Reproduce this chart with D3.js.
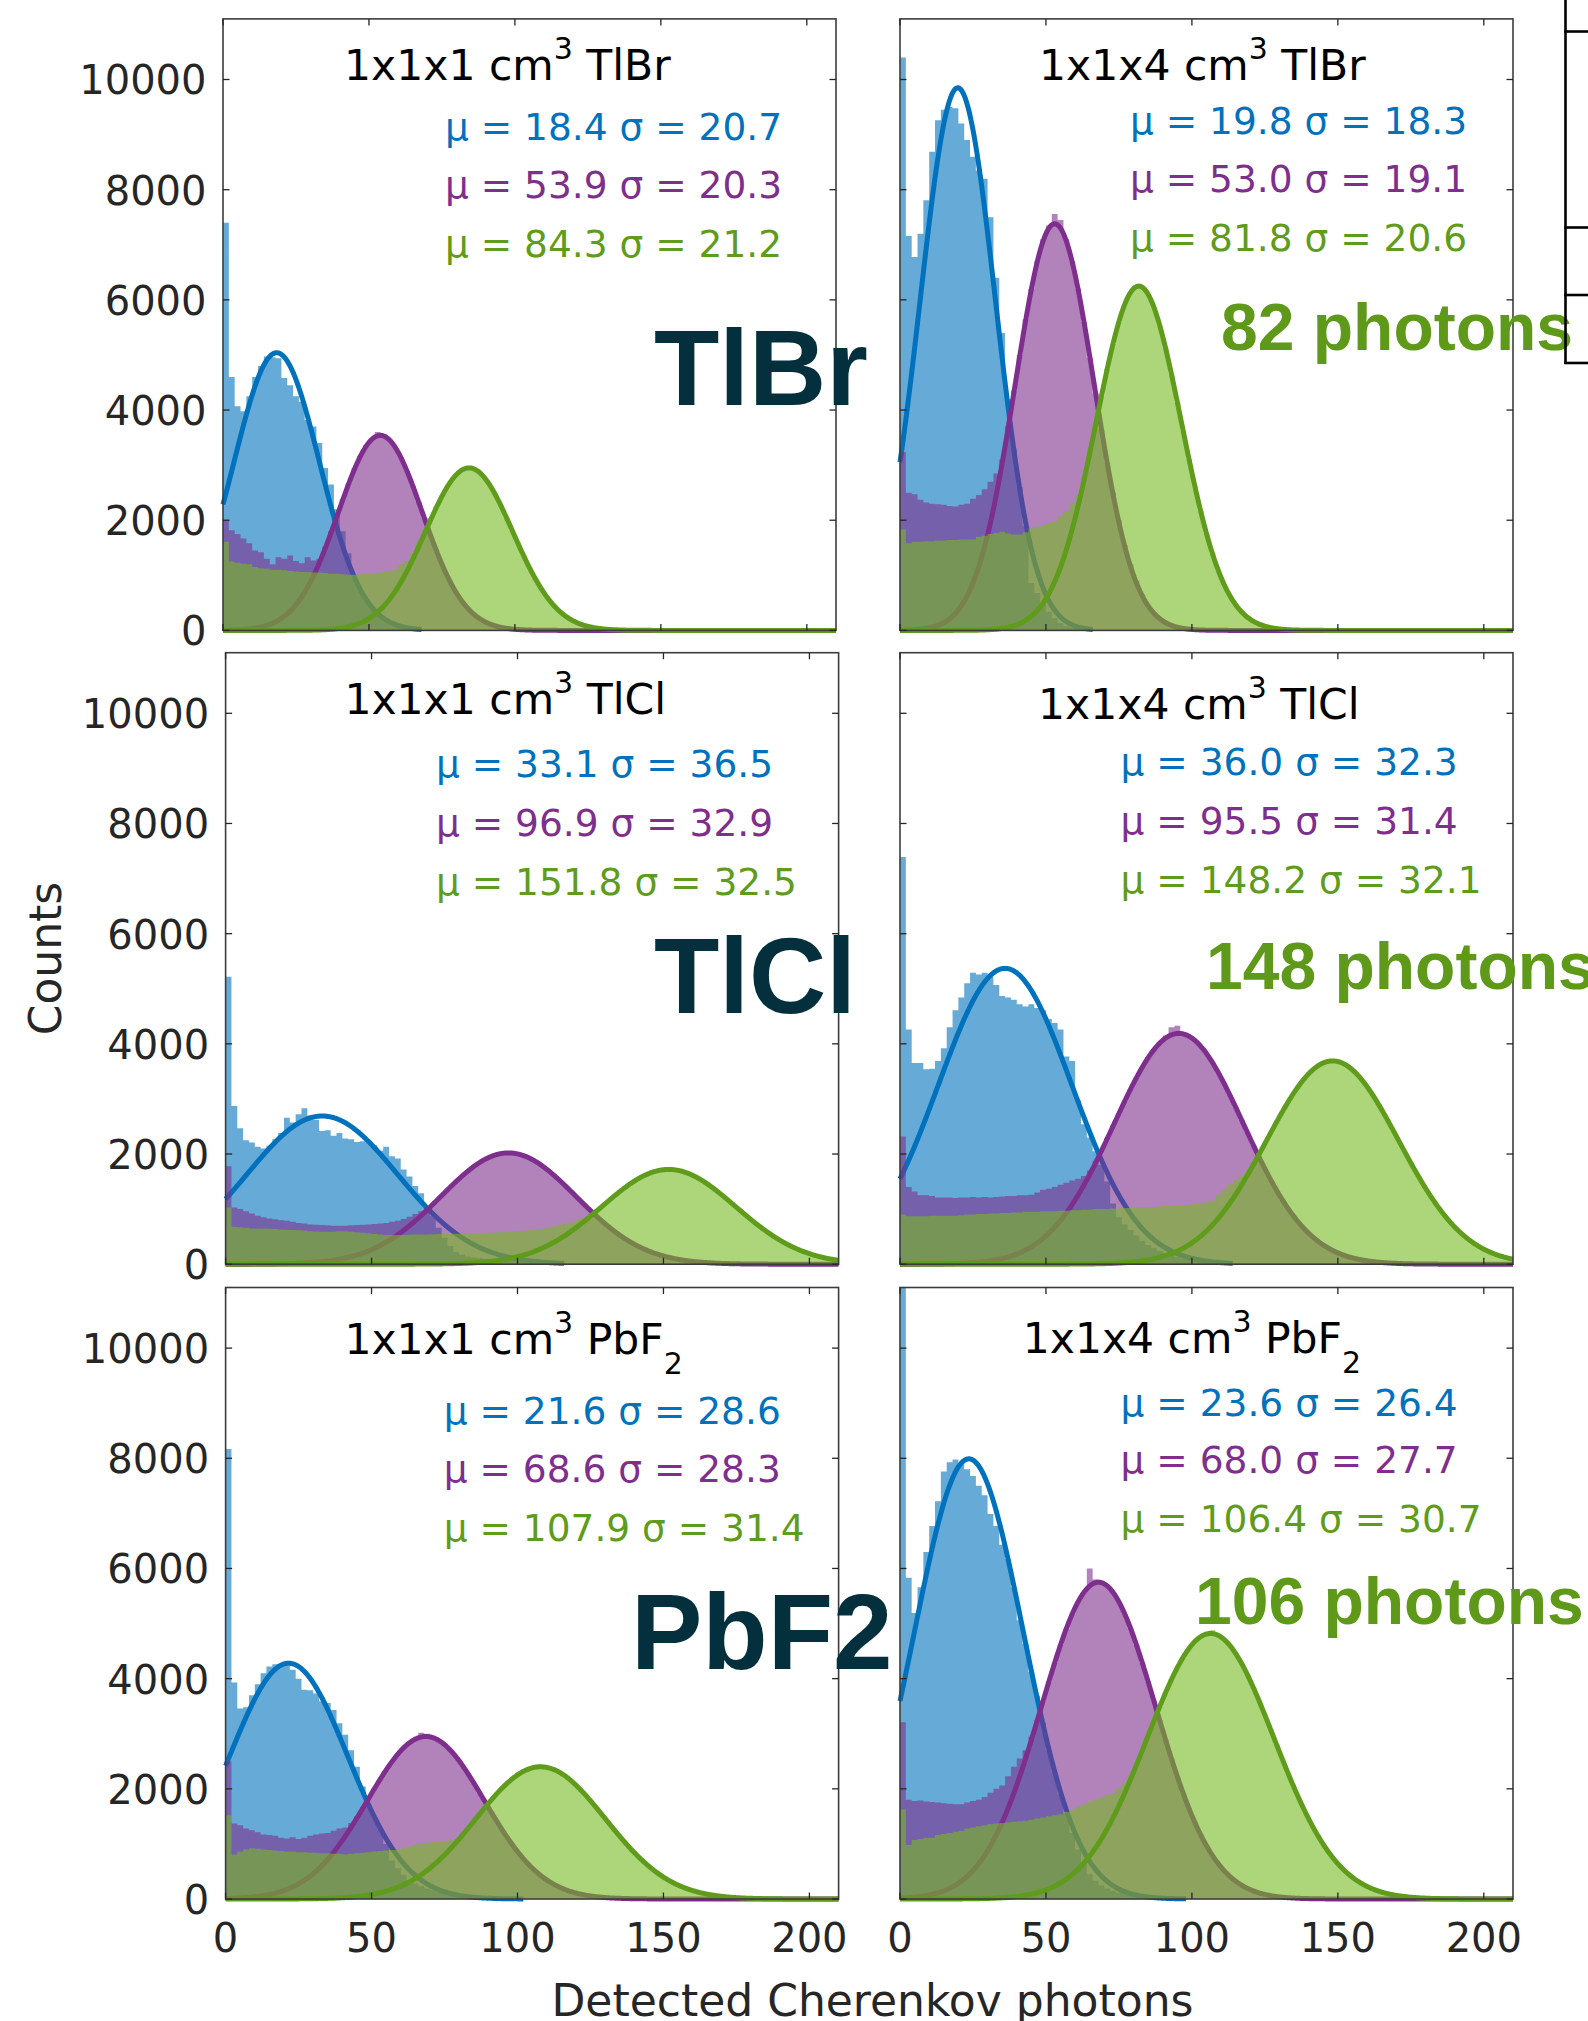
<!DOCTYPE html>
<html>
<head>
<meta charset="utf-8">
<script src="https://cdn.jsdelivr.net/npm/d3@7"></script>
<style>
  html, body { margin: 0; padding: 0; background: #ffffff; }
  svg { display: block; }
</style>
</head>
<body>
<svg id="chart" width="1588" height="2021"></svg>
<script>
// ---------------------------------------------------------------
// Data: detected Cherenkov photon histograms (2-photon bins, counts
// per bin starting at 0) for three event classes per crystal, plus
// Gaussian fit parameters  A*exp(-((x-mu)/sigma)^2).
// ---------------------------------------------------------------
const binWidth = 2;
const xTicks = [0, 50, 100, 150, 200];
const yTicks = [0, 2000, 4000, 6000, 8000, 10000];
const xDomain = [0, 210];
const yDomain = [0, 11100];

const panelSizes = ["1x1x1", "1x1x4", "1x1x1", "1x1x4", "1x1x1", "1x1x4"];
const panelMaterial = ["TlBr", "TlBr", "TlCl", "TlCl", "PbF", "PbF"];
const panelMaterialSub = ["", "", "", "", "2", "2"];
const crystalLabels = ["TlBr", "TlCl", "PbF2"];

const fitMu = [
  [18.4, 53.9, 84.3], [19.8, 53.0, 81.8],
  [33.1, 96.9, 151.8], [36.0, 95.5, 148.2],
  [21.6, 68.6, 107.9], [23.6, 68.0, 106.4]
];
const fitSigma = [
  [20.7, 20.3, 21.2], [18.3, 19.1, 20.6],
  [36.5, 32.9, 32.5], [32.3, 31.4, 32.1],
  [28.6, 28.3, 31.4], [26.4, 27.7, 30.7]
];
const fitAmp = [
  [5040, 3540, 2950], [9850, 7380, 6250],
  [2690, 2020, 1720], [5370, 4190, 3690],
  [4280, 2950, 2400], [7990, 5750, 4820]
];

// TlBr 1x1x1
const tlbr1Blue = [7400,4600,4070,3980,4250,4600,4800,4970,4960,4940,4580,4450,4250,4150,3820,3700,3400,2950,2650,2200,1800,1400,950,740,560,420,310,220,155,108,73,49,32,20];
const tlbr1Purple = [2000,1820,1750,1670,1580,1450,1420,1300,1200,1330,1300,1360,1260,1220,1330,1270,1300,1520,1800,2080,2380,2670,2940,3170,3360,3490,3600,3560,3470,3330,3140,2900,2630,2340,2040,1750,1470,1210,975,770,600,455,340,250,180,125,87,59,39,26,17,11];
const tlbr1Green = [1610,1250,1230,1210,1200,1150,1130,1120,1100,1100,1090,1080,1070,1060,1060,1050,1050,1040,1030,1030,1020,1010,1010,1020,1030,1030,1040,1060,1080,1100,1200,1250,1400,1600,1820,2040,2250,2450,2640,2780,2880,2930,2960,2920,2800,2680,2500,2290,2060,1820,1590,1360,1140,940,760,600,470,360,275,205,150,105,74,51,35,23,15,10];

// TlBr 1x1x4
const tlbr4Blue = [10400,7160,6780,7200,7810,8690,9260,9450,9500,9480,9200,8900,8600,8350,8200,7500,6400,5400,4200,3300,2600,1900,860,680,490,340,220,130,80,60,50,40,30];
const tlbr4Purple = [3240,2500,2470,2370,2320,2300,2290,2280,2260,2250,2280,2300,2390,2460,2560,2700,2850,3100,3700,4350,5000,5650,6200,6700,7100,7350,7560,7450,7100,6700,6200,5600,4950,4300,3650,3050,2500,2000,1550,1200,900,650,460,320,220,150,95,60,36,22,13];
const tlbr4Green = [1830,1580,1610,1610,1620,1620,1630,1630,1640,1640,1650,1650,1650,1700,1720,1750,1770,1790,1760,1740,1740,1780,1850,1880,1910,1940,1970,2070,2160,2300,2450,2800,3250,3750,4260,4750,5200,5600,5920,6140,6250,6240,6100,5860,5530,5120,4650,4140,3630,3110,2620,2170,1760,1400,1090,840,630,460,340,240,170,115,77,51,33,21,13];

// TlCl 1x1x1
const tlcl1Blue = [5220,2870,2470,2250,2210,2130,2100,2150,2270,2380,2660,2570,2720,2830,2700,2620,2420,2430,2330,2380,2280,2270,2220,2230,2200,2160,2060,2130,1960,1920,1720,1590,1420,1290,1050,880,660,480,330,220,170,140,120,110,100,95,90,85,80,75,70,60,55,50,40,35,30,20];
const tlcl1Purple = [1780,1030,1000,960,920,880,850,830,815,800,790,770,750,740,720,715,710,705,700,700,700,705,710,715,720,730,740,750,770,790,820,860,910,960,1030,1100,1200,1300,1400,1500,1600,1690,1770,1840,1910,1960,1990,2010,2030,2010,2000,1960,1910,1850,1770,1680,1590,1490,1390,1290,1180,1080,975,875,780,690,605,530,460,395,335,285,240,200,165,135,110,90,72,57,45,36,28,22,17,13];
const tlcl1Green = [1030,680,670,660,650,650,650,645,640,630,625,620,615,610,600,595,590,590,590,600,600,590,580,570,560,550,540,530,530,530,530,535,540,540,540,545,550,550,555,555,560,560,565,565,570,570,575,580,590,600,600,610,620,635,650,670,690,720,740,760,800,840,900,970,1060,1145,1235,1320,1400,1475,1540,1600,1650,1685,1710,1720,1720,1705,1680,1640,1590,1530,1460,1380,1300,1215,1125,1030,945,855,770,685,605,535,465,400,345,295,250,210,175,145,120,96,78];

// TlCl 1x1x4
const tlcl4Blue = [7390,4260,3650,3650,3540,3550,3690,3920,4300,4610,4840,5100,5290,5260,5290,5220,5070,4870,4840,4800,4720,4680,4720,4650,4610,4450,4380,4260,3770,3690,2970,2540,2300,2050,1800,1500,1100,850,720,620,520,420,350,290,240,200,160,130,100,80,60,45,35,25,20,15,10];
const tlcl4Purple = [2320,1400,1320,1250,1250,1240,1210,1210,1210,1200,1210,1210,1220,1210,1220,1210,1220,1230,1240,1240,1250,1250,1260,1300,1350,1370,1400,1440,1480,1520,1550,1600,1700,1880,2080,2290,2520,2740,2960,3180,3390,3580,3760,3900,4030,4150,4300,4330,4200,4140,4060,3960,3820,3660,3480,3290,3070,2850,2620,2400,2170,1950,1730,1530,1340,1170,1010,860,730,615,510,425,350,285,230,185,145,115,90,70,54,41,31,23,17];
const tlcl4Green = [900,870,870,870,870,880,880,880,880,880,890,900,900,910,910,920,920,930,930,940,940,950,950,950,960,960,960,970,970,980,980,990,990,1000,1000,1000,1010,1010,1020,1020,1030,1030,1040,1040,1050,1050,1060,1060,1070,1080,1090,1100,1120,1150,1250,1350,1450,1520,1600,1700,1850,2020,2190,2390,2580,2770,2950,3120,3270,3400,3510,3590,3650,3690,3690,3660,3610,3530,3420,3300,3150,2980,2810,2620,2420,2230,2030,1840,1650,1470,1300,1140,990,860,735,625,525,440,365,300,245,200,160,130,100];

// PbF2 1x1x1
const pbf1Blue = [8170,3930,3460,3480,3700,3900,4100,4220,4260,4250,4240,4160,4000,3800,3790,3730,3590,3560,3430,3190,2980,2700,2400,2040,1710,1490,1280,1000,700,560,440,340,280,230,190,160,130,110,90,75,60,50,40,35,30,25,20,15,12,10,8];
const pbf1Purple = [2500,1370,1340,1280,1250,1210,1170,1160,1150,1110,1100,1120,1090,1110,1150,1170,1190,1200,1240,1280,1300,1380,1500,1660,1840,2010,2180,2340,2490,2630,2750,2840,2910,3020,3000,2930,2880,2800,2700,2580,2430,2280,2110,1930,1750,1580,1400,1240,1080,930,800,670,565,470,385,310,250,200,160,125,96,73,56,42,31,23,17];
const pbf1Green = [1520,810,860,900,920,910,900,890,880,870,860,860,850,850,840,840,830,830,820,820,810,820,830,840,850,860,870,880,890,900,920,950,990,1010,1020,1030,1030,1040,1060,1100,1180,1300,1420,1550,1680,1800,1920,2030,2130,2220,2290,2340,2390,2440,2410,2380,2340,2280,2210,2120,2020,1900,1780,1660,1530,1400,1270,1140,1020,900,790,690,595,510,430,365,305,255,210,170,137,110,88,70,54,42,32,25,19,14];

// PbF2 1x1x4
const pbf4Blue = [11400,5830,5190,5660,6300,6770,7220,7760,7930,7980,7890,7800,7680,7500,7330,6990,6770,6430,6170,5660,5060,4630,4120,3690,3200,2700,2300,1900,1550,1200,900,650,450,330,250,190,150,120,100,80,65,50,40,30,25,20,15,12,10];
const pbf4Purple = [3210,1800,1780,1790,1770,1760,1750,1740,1730,1720,1720,1750,1780,1800,1850,1930,2000,2060,2230,2400,2550,2700,2950,3250,3600,3950,4290,4610,4900,5170,5390,5560,6000,5800,5740,5680,5560,5390,5170,4910,4610,4290,3950,3600,3250,2900,2560,2230,1930,1650,1400,1170,970,800,650,520,410,320,250,195,150,110,83,61,45,33,24,17];
const pbf4Green = [1630,980,1070,1090,1110,1110,1160,1180,1200,1220,1240,1280,1300,1320,1340,1360,1370,1380,1390,1400,1410,1420,1440,1460,1480,1500,1520,1540,1580,1620,1680,1720,1760,1800,1840,1880,1920,2000,2100,2250,2460,2710,2970,3240,3500,3750,3990,4200,4390,4550,4670,4760,4810,4880,4790,4710,4600,4460,4280,4080,3850,3600,3340,3080,2810,2540,2280,2020,1790,1560,1350,1160,990,840,700,580,480,390,320,255,200,160,125,98,75,57,43,32,24,18,13];

const panelHists = [
  [tlbr1Blue, tlbr1Purple, tlbr1Green],
  [tlbr4Blue, tlbr4Purple, tlbr4Green],
  [tlcl1Blue, tlcl1Purple, tlcl1Green],
  [tlcl4Blue, tlcl4Purple, tlcl4Green],
  [pbf1Blue, pbf1Purple, pbf1Green],
  [pbf4Blue, pbf4Purple, pbf4Green]
];

// ---------------------------------------------------------------
// Styling and layout
// ---------------------------------------------------------------
const fillColors = ["#0072BD", "#7E2F8E", "#77B920"];
const lineColors = ["#0072BD", "#7E2F8E", "#5F9C1B"];
const textColors = ["#0072BD", "#7E2F8E", "#5F9C1B"];
const fillOpacity = 0.6;
const axisColor = "#262626";
const labelDark = "#03303C";

const plotW = 613, plotH = 611.5;
const panelFrames = [
  { left: 223,   bottom: 630.4 },
  { left: 900,   bottom: 630.4 },
  { left: 225.6, bottom: 1264.2 },
  { left: 900,   bottom: 1264.2 },
  { left: 225.6, bottom: 1899 },
  { left: 900,   bottom: 1899 }
];
// title / fit-stat text anchors in page pixels
const titlePos = [
  { x: 344, y: 80 }, { x: 1039, y: 80 },
  { x: 344.4, y: 713.7 }, { x: 1038, y: 719 },
  { x: 344.4, y: 1354.2 }, { x: 1022.7, y: 1353.3 }
];
const statPos = [
  { x: 445, ys: [139.7, 197.8, 257] },
  { x: 1130, ys: [134, 191.5, 251] },
  { x: 436, ys: [776.8, 835.7, 894.6] },
  { x: 1120.6, ys: [774.7, 833.6, 892.5] },
  { x: 443.7, ys: [1424, 1482.3, 1540.9] },
  { x: 1120.6, ys: [1415.6, 1472.8, 1531.9] }
];
const crystalLabelPos = [ { x: 654, y: 405 }, { x: 654, y: 1012.5 }, { x: 631, y: 1668.5 } ];
const photonLabelPos = [ { x: 1221, y: 350 }, { x: 1206, y: 989 }, { x: 1195, y: 1624 } ];

const svg = d3.select("#chart");
svg.append("rect").attr("width", 1588).attr("height", 2021).attr("fill", "#ffffff");

const defs = svg.append("defs");
const mainFont = "'DejaVu Sans', 'Open Sans', sans-serif";
const boldFont = "'Liberation Sans', Arial, Helvetica, sans-serif";

panelFrames.forEach((pf, p) => {
  const top = pf.bottom - plotH;
  const x = d3.scaleLinear().domain(xDomain).range([pf.left, pf.left + plotW]);
  const y = d3.scaleLinear().domain(yDomain).range([pf.bottom, top]);

  const clipId = "clip" + p;
  defs.append("clipPath").attr("id", clipId)
    .append("rect").attr("x", pf.left).attr("y", top).attr("width", plotW).attr("height", plotH);

  const g = svg.append("g").attr("class", "panel");

  const area = d3.area()
    .curve(d3.curveStepAfter)
    .x(d => x(d[0]))
    .y0(y(0))
    .y1(d => y(d[1]));

  const line = d3.line().x(d => x(d[0])).y(d => y(d[1]));

  panelHists[p].forEach((counts, s) => {
    // histogram
    const pts = counts.map((c, i) => [i * binWidth, c]);
    pts.push([counts.length * binWidth, counts[counts.length - 1]]);
    g.append("path")
      .attr("d", area(pts))
      .attr("fill", fillColors[s])
      .attr("fill-opacity", fillOpacity)
      .attr("clip-path", `url(#${clipId})`);

    // Gaussian fit
    const mu = fitMu[p][s], sig = fitSigma[p][s], A = fitAmp[p][s];
    const xEnd = s === 0 ? counts.length * binWidth : xDomain[1];
    const curvePts = d3.range(0, xEnd + 1e-9, 0.25).map(v => [v, A * Math.exp(-Math.pow((v - mu) / sig, 2))]);
    g.append("path")
      .attr("d", line(curvePts))
      .attr("fill", "none")
      .attr("stroke", lineColors[s])
      .attr("stroke-width", 5)
      .attr("stroke-linejoin", "round");
  });

  // frame
  g.append("rect")
    .attr("x", pf.left).attr("y", top)
    .attr("width", plotW).attr("height", plotH)
    .attr("fill", "none").attr("stroke", "#3c3c3c").attr("stroke-width", 1.6);

  // inward ticks on all four sides
  const tickLen = 6.5;
  yTicks.forEach(t => {
    const yy = y(t);
    g.append("line").attr("x1", pf.left).attr("x2", pf.left + tickLen).attr("y1", yy).attr("y2", yy)
      .attr("stroke", axisColor).attr("stroke-width", 1.3);
    g.append("line").attr("x1", pf.left + plotW).attr("x2", pf.left + plotW - tickLen).attr("y1", yy).attr("y2", yy)
      .attr("stroke", axisColor).attr("stroke-width", 1.3);
  });
  xTicks.forEach(t => {
    const xx = x(t);
    g.append("line").attr("x1", xx).attr("x2", xx).attr("y1", pf.bottom).attr("y2", pf.bottom - tickLen)
      .attr("stroke", axisColor).attr("stroke-width", 1.3);
    g.append("line").attr("x1", xx).attr("x2", xx).attr("y1", top).attr("y2", top + tickLen)
      .attr("stroke", axisColor).attr("stroke-width", 1.3);
  });

  // y tick labels on the left column
  if (p % 2 === 0) {
    yTicks.forEach(t => {
      g.append("text")
        .attr("x", pf.left - 16.5).attr("y", y(t) + 15)
        .attr("text-anchor", "end")
        .attr("font-family", mainFont).attr("font-size", 40)
        .attr("fill", axisColor)
        .text(t);
    });
  }
  // x tick labels on the bottom row
  if (p >= 4) {
    xTicks.forEach(t => {
      g.append("text")
        .attr("x", x(t)).attr("y", 1952)
        .attr("text-anchor", "middle")
        .attr("font-family", mainFont).attr("font-size", 40)
        .attr("fill", axisColor)
        .text(t);
    });
  }

  // panel title: size, cm^3, material (with subscript for PbF2)
  const title = g.append("text")
    .attr("x", titlePos[p].x).attr("y", titlePos[p].y)
    .attr("font-family", mainFont).attr("font-size", 42.5)
    .attr("fill", "#000000");
  title.append("tspan").text(panelSizes[p] + " cm");
  title.append("tspan").attr("font-size", 30).attr("dy", -21).text("3");
  title.append("tspan").attr("dy", 21).text("\u00A0" + panelMaterial[p]);
  if (panelMaterialSub[p]) {
    title.append("tspan").attr("font-size", 30).attr("dy", 20).text(panelMaterialSub[p]);
  }

  // fit statistics
  [0, 1, 2].forEach(s => {
    g.append("text")
      .attr("x", statPos[p].x).attr("y", statPos[p].ys[s])
      .attr("font-family", mainFont).attr("font-size", 37.5)
      .attr("fill", textColors[s])
      .text(`\u03BC = ${fitMu[p][s].toFixed(1)} \u03C3 = ${fitSigma[p][s].toFixed(1)}`);
  });
});

// axis titles
svg.append("text")
  .attr("transform", "translate(61,958.5) rotate(-90)")
  .attr("text-anchor", "middle")
  .attr("font-family", mainFont).attr("font-size", 44)
  .attr("fill", axisColor)
  .text("Counts");
svg.append("text")
  .attr("x", 872.5).attr("y", 2016)
  .attr("text-anchor", "middle")
  .attr("font-family", mainFont).attr("font-size", 44)
  .attr("fill", axisColor)
  .text("Detected Cherenkov photons");

// crystal names over the left column
crystalLabels.forEach((name, r) => {
  svg.append("text")
    .attr("x", crystalLabelPos[r].x).attr("y", crystalLabelPos[r].y)
    .attr("font-family", boldFont).attr("font-weight", "bold").attr("font-size", 107)
    .attr("fill", labelDark)
    .text(name);
});

// photon yield of the long crystals (green peak position)
[1, 3, 5].forEach((p, r) => {
  svg.append("text")
    .attr("x", photonLabelPos[r].x).attr("y", photonLabelPos[r].y)
    .attr("font-family", boldFont).attr("font-weight", "bold").attr("font-size", 66)
    .attr("fill", "#5E991A")
    .text(`${Math.round(fitMu[p][2])} photons`);
});

// edge of the neighbouring table
const tbl = svg.append("g").attr("stroke", "#000000").attr("stroke-width", 2.6).attr("fill", "none");
tbl.append("line").attr("x1", 1565.5).attr("x2", 1565.5).attr("y1", 0).attr("y2", 364);
[31.5, 227.5, 295, 363].forEach(v => {
  tbl.append("line").attr("x1", 1564.2).attr("x2", 1588).attr("y1", v).attr("y2", v);
});
</script>
</body>
</html>
